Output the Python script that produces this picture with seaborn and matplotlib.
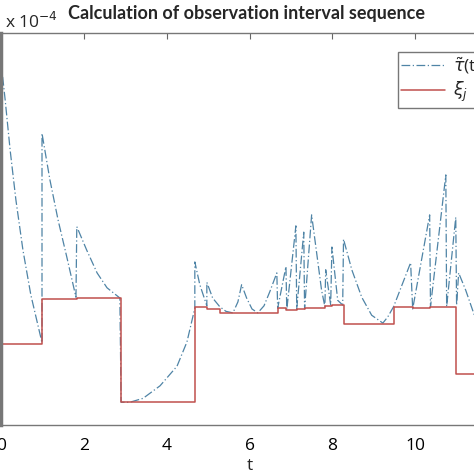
import matplotlib
matplotlib.use("Agg")
import matplotlib.pyplot as plt
import seaborn as sns
import pandas as pd

# values in units of 1e-4
xi_t = [0, 0.99, 1.83, 2.90, 4.68, 4.97, 5.28, 6.68, 6.88, 7.14, 7.33, 7.82, 7.99, 8.27, 9.48, 9.94, 10.37, 10.98, 12.0]
xi_v = [2.03, 2.61, 2.62, 1.29, 2.51, 2.48, 2.43, 2.49, 2.47, 2.48, 2.49, 2.52, 2.53, 2.29, 2.51, 2.49, 2.51, 1.65, 1.65]

tau_t = [0.00, 0.10, 0.22, 0.36, 0.53, 0.72, 0.99, 0.99, 1.18, 1.38, 1.59, 1.81,
         1.83, 2.07, 2.32, 2.56, 2.87, 2.90, 3.11, 3.43, 3.84, 4.25, 4.49, 4.68,
         4.68, 4.80, 4.97, 4.97, 5.11, 5.28, 5.43, 5.60, 5.72, 5.81, 5.93, 6.06,
         6.20, 6.35, 6.49, 6.66, 6.68, 6.88, 6.90, 7.12, 7.14, 7.31, 7.33, 7.50,
         7.65, 7.74, 7.82, 7.84, 7.96, 7.99, 8.13, 8.25, 8.27, 8.47, 8.71, 8.95,
         9.22, 9.34, 9.48, 9.89, 9.94, 10.35, 10.37, 10.74, 10.76, 10.98, 11.00,
         11.05, 11.22, 11.41, 11.56]
tau_v = [5.63, 5.15, 4.51, 3.87, 3.23, 2.66, 2.05, 4.72, 4.13, 3.61, 3.14, 2.63,
         3.53, 3.23, 2.94, 2.75, 2.62, 1.29, 1.29, 1.34, 1.50, 1.75, 2.06, 2.49,
         3.08, 2.79, 2.52, 2.82, 2.62, 2.51, 2.45, 2.43, 2.57, 2.79, 2.62, 2.48,
         2.43, 2.52, 2.70, 2.94, 2.49, 3.02, 2.47, 3.54, 2.48, 3.46, 2.48, 3.68,
         3.08, 2.72, 2.51, 2.98, 2.53, 3.27, 2.59, 2.53, 3.37, 2.98, 2.63, 2.40,
         2.30, 2.38, 2.51, 3.07, 2.48, 3.68, 2.51, 4.19, 2.51, 3.65, 2.53,
         2.94, 2.72, 2.43, 2.21]

sns.set_theme(style="white")
plt.rcParams['font.family'] = ['Open Sans', 'DejaVu Sans']

W = 474
fig = plt.figure(figsize=(4.74, 4.74), dpi=100)
ax = fig.add_axes([1 / W, 49 / W, 497 / W, 392 / W])

blue = "#4f84a6"
red = "#c0504d"

df_tau = pd.DataFrame({"t": tau_t, "v": [v * 1e-4 for v in tau_v]})
df_xi = pd.DataFrame({"t": xi_t, "v": [v * 1e-4 for v in xi_v]})

sns.lineplot(data=df_tau, x="t", y="v", ax=ax, sort=False, estimator=None,
             color=blue, linestyle=(0, (7, 2, 1, 2)), linewidth=0.9,
             label=r"$\tilde{\tau}$(t)")
sns.lineplot(data=df_xi, x="t", y="v", ax=ax, sort=False, estimator=None,
             color=red, linewidth=1.1, drawstyle="steps-post",
             label=r"$\xi_j$")

ax.set_xlim(0, 12)
ax.set_ylim(1.0e-4, 6.0e-4)
ax.set_xticks(range(0, 13, 2))
ax.set_yticks([1e-4 + 0.5e-4 * i for i in range(11)])
ax.yaxis.get_offset_text().set_visible(False)
ax.set_xlabel("t", fontsize=12.5, labelpad=3)
ax.set_ylabel("")
ax.tick_params(direction="in", top=True, right=True, length=4, width=0.8,
               colors="#666666", labelcolor="black", labelsize=12.5, pad=9)
for side, sp in ax.spines.items():
    sp.set_color("#777777")
    sp.set_linewidth(1.0)
ax.spines["left"].set_linewidth(2.5)

leg = ax.legend(loc="upper left", bbox_to_anchor=(398 / W, 1 - 52 / W),
                bbox_transform=fig.transFigure, borderaxespad=0, fontsize=12.5,
                handlelength=2.5, handletextpad=0.45, frameon=True, fancybox=False,
                labelspacing=0.25, borderpad=0.2)
leg.get_frame().set_edgecolor("#555555")
leg.get_frame().set_linewidth(1.0)

fig.text(0.52, 1 - 13 / W, "Calculation of observation interval sequence",
         ha="center", va="center", fontsize=13, fontweight="bold",
         family=["Lato", "DejaVu Sans"])
fig.text(5 / W, 1 - 22 / W, r"x 10$^{-4}$", ha="left", va="center", fontsize=12.5)

fig.savefig("out.png", dpi=100)
